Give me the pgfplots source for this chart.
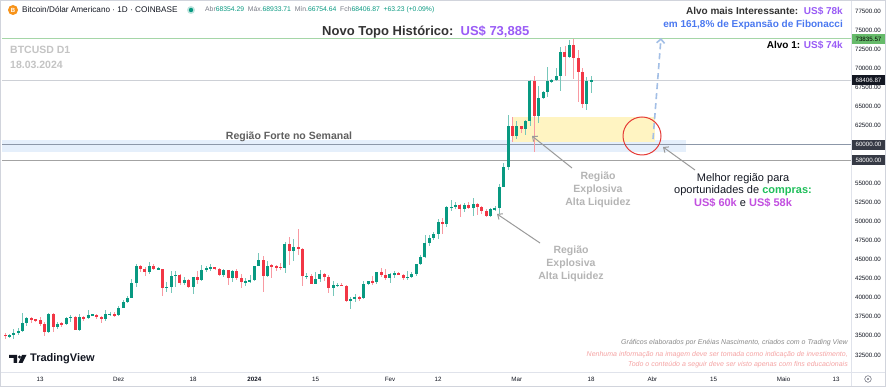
\documentclass[border=0pt]{standalone}
\usepackage{pgfplots}
\pgfplotsset{compat=1.18}
\usepackage{pgfplotstable}
\usepackage{fontspec}
\setmainfont{Liberation Sans}
\usetikzlibrary{arrows.meta}

\definecolor{tvgreen}{HTML}{089981}
\definecolor{tvred}{HTML}{F23645}
\definecolor{tvtext}{HTML}{131722}
\definecolor{tvgray}{HTML}{787B86}
\definecolor{purp}{HTML}{9A5CF6}
\definecolor{fibblue}{HTML}{4A78F0}
\definecolor{magtwo}{HTML}{C24FE0}
\definecolor{buygreen}{HTML}{1FBF5A}
\definecolor{explgray}{HTML}{B5B5B5}
\definecolor{annot}{HTML}{5F5F5F}
\definecolor{bandblue}{HTML}{E5EFFB}
\definecolor{boxyellow}{HTML}{FFF4C2}
\definecolor{athgreen}{HTML}{A5D6A7}
\definecolor{pricegray}{HTML}{CDD0D6}
\definecolor{lineA}{HTML}{8C97A8}
\definecolor{lineB}{HTML}{A3A3A3}
\definecolor{dashblue}{HTML}{A3BFE6}
\definecolor{circred}{HTML}{E53935}
\definecolor{arrowgray}{HTML}{9A9A9A}
\definecolor{sepgray}{HTML}{E0E3EB}
\definecolor{footgray}{HTML}{8A8A8A}
\definecolor{footred}{HTML}{F5A3A3}
\definecolor{btcorange}{HTML}{F7931A}
\definecolor{darktext}{HTML}{333333}
\definecolor{ligtxt}{HTML}{C4C4C4}
\definecolor{athbox}{HTML}{66BB6A}
\definecolor{lvlbox}{HTML}{363A45}
\definecolor{framegray}{HTML}{D1D4DC}

\pgfplotstableread{
d o h l c
-8 35080 35380 34540 35040
-7 35040 35280 34740 35050
-6 35050 35900 34530 35420
-5 35420 35990 35110 35630
-4 35630 37970 35540 36700
-3 36700 37520 36340 37320
-2 37320 37410 36710 37140
-1 37140 37230 36760 37070
0 37070 37430 36350 36490
1 36490 36760 34950 35550
2 35550 37960 35370 37880
3 37880 37930 35560 36160
4 36160 36870 35890 36590
5 36590 36820 36200 36580
6 36580 37520 36370 37380
7 37380 37760 36800 37460
8 37460 37650 35750 35790
9 35790 37850 35650 37420
10 37420 37660 36880 37300
11 37300 38420 37250 37720
12 37720 37890 37600 37790
13 37790 37830 37150 37450
14 37450 37580 36740 37240
15 37240 38380 36890 37830
16 37830 38150 37630 37850
17 37850 38150 37510 37710
18 37710 38960 37620 38690
19 38690 39680 38650 39460
20 39460 40200 39290 39970
21 39970 42420 39970 41980
22 41980 44450 41420 44080
23 44080 44290 43390 43770
24 43770 44050 42840 43290
25 43290 44700 43080 44170
26 44170 44360 43580 43720
27 43720 44040 43570 43790
28 43790 43800 40220 41240
29 41240 42100 40680 41450
30 41450 43430 40620 42890
31 42890 43420 41420 43020
32 43020 43090 41690 41940
33 41940 42720 41700 42260
34 42260 42430 41250 41370
35 41370 42750 40530 42660
36 42660 43490 41800 42270
37 42270 44290 42200 43660
38 43660 44200 43300 43860
39 43860 44390 43420 43990
40 43990 43990 43610 43730
41 43730 43940 42800 43010
42 43010 43800 42730 43580
43 43580 43600 41640 42520
44 42520 43680 42100 43440
45 43440 43800 42300 42580
46 42580 43130 41300 42070
47 42070 42600 41520 42140
48 42140 42900 41970 42280
49 42280 44190 42200 44180
50 44180 45900 44180 44950
51 44950 45500 40750 42850
52 42850 44780 42640 44180
53 44180 44360 42630 44160
54 44160 44220 43420 43970
55 43970 44500 43600 43930
56 43930 47250 43200 46970
57 46970 47900 44300 46120
58 46120 47700 44750 46660
59 46660 48970 45600 46340
60 46340 46500 41500 42780
61 42780 43250 42440 42840
62 42840 43080 41720 41730
63 41730 43300 41720 42500
64 42500 43570 42050 43150
65 43150 43200 42190 42740
66 42740 42900 40600 41260
67 41260 42150 40250 41620
68 41620 41850 41450 41660
69 41660 41880 41500 41550
70 41550 41650 39400 39520
71 39520 40100 38500 39850
72 39850 40500 39480 40090
73 40090 40280 39520 39940
74 39940 42200 39800 41810
75 41810 42200 41650 42120
76 42120 42800 41630 42030
77 42030 43300 41800 43300
78 43300 43880 42700 42940
79 42940 43750 42300 42580
80 42580 43280 41880 43080
81 43080 43480 42590 43190
82 43190 43380 42900 43000
83 43000 43110 42360 42580
84 42580 43540 42260 42700
85 42700 43400 42580 43090
86 43090 44380 42780 44340
87 44340 45600 44330 45290
88 45290 48200 45250 47140
89 47140 48170 46800 47770
90 47770 48550 47550 48290
91 48290 50320 47720 49960
92 49960 50380 48350 49700
93 49700 52000 49300 51800
94 51800 52820 51300 51900
95 51900 52570 51600 52130
96 52130 52200 50600 51650
97 51650 52350 51170 52120
98 52120 52500 51560 51780
99 51780 52980 50650 52260
100 52260 52370 50800 51850
101 51850 52000 50950 51320
102 51320 51550 50530 50730
103 50730 51690 50580 51570
104 51570 51950 51300 51730
105 51730 54900 50900 54480
106 54480 57550 54450 57050
107 57050 63900 56700 62500
108 62500 63680 60370 61170
109 61170 63120 60800 62400
110 62400 62450 61600 62030
111 62030 63200 61300 63140
112 63140 68450 62400 68300
113 68300 69000 59000 63800
114 63800 67650 62800 66100
115 66100 67000 65950 66900
116 66900 70200 66200 68300
117 68300 68650 68100 68500
118 68500 70000 68300 69000
119 69000 72800 67000 72100
120 72100 72900 69000 71500
121 71500 73650 71350 73100
122 73100 73835 68600 71400
123 71400 72400 65600 69500
124 69500 70000 64800 65300
125 65300 68900 64600 68390
126 68354 68934 66755 68407
}\btc

\begin{document}
\begin{tikzpicture}
\useasboundingbox (0pt,0pt) rectangle (886pt,387pt);
\fill[white] (0pt,0pt) rectangle (886pt,387pt);
\begin{axis}[
  at={(2pt,15pt)}, anchor=south west,
  width=849pt, height=370pt, scale only axis,
  xmin=-8.69, xmax=185.41, ymin=30273, ymax=78677,
  axis line style={draw=none},
  major tick length=0pt,
  scaled y ticks=false,
  xtick={0,18,35,49,63,80,91,109,126,140,154,170,182},
  xticklabels={13,Dez,18,\textbf{2024},15,Fev,12,Mar,18,Abr,15,Maio,13},
  xticklabel style={font=\fontsize{6.2}{7}\selectfont, text=tvtext, anchor=center, yshift=-7pt},
  ytick={32500,35000,37500,40000,42500,45000,47500,50000,52500,55000,62500,65000,67500,70000,72500,75000,77500},
  yticklabel pos=right,
  y tick label style={/pgf/number format/.cd, fixed, fixed zerofill, precision=2, 1000 sep={}, assume math mode=true, /tikz/.cd, font=\fontsize{6.2}{7}\selectfont, text=tvtext, anchor=center, xshift=17pt},
]
\fill[bandblue] (axis cs:-8.69,59070) rectangle (axis cs:147.7,60624);
\fill[boxyellow] (axis cs:107.9,60363) rectangle (axis cs:140.6,63633);
\draw[athgreen, line width=1pt] (axis cs:-8.69,73835.57) -- (axis cs:185.41,73835.57);
\draw[pricegray, line width=0.8pt] (axis cs:-8.69,68406.87) -- (axis cs:185.41,68406.87);
\draw[lineA, line width=1pt] (axis cs:-8.69,60000) -- (axis cs:185.41,60000);
\draw[lineB, line width=1pt] (axis cs:-8.69,58000) -- (axis cs:185.41,58000);

% wicks
\addplot[draw=none, mark=none, forget plot,
  restrict expr to domain={\thisrow{c}-\thisrow{o}}{0:1000000},
  error bars/.cd, y dir=both, y explicit, error mark=none,
  error bar style={line width=0.8pt, draw=tvgreen!55!white}]
  table[x=d, y expr={(\thisrow{h}+\thisrow{l})/2}, y error expr={(\thisrow{h}-\thisrow{l})/2}] {\btc};
\addplot[draw=none, mark=none, forget plot,
  restrict expr to domain={\thisrow{c}-\thisrow{o}}{-1000000:-0.001},
  error bars/.cd, y dir=both, y explicit, error mark=none,
  error bar style={line width=0.8pt, draw=tvred!50!white}]
  table[x=d, y expr={(\thisrow{h}+\thisrow{l})/2}, y error expr={(\thisrow{h}-\thisrow{l})/2}] {\btc};
% bodies
\addplot[draw=none, mark=none, forget plot,
  restrict expr to domain={\thisrow{c}-\thisrow{o}}{0:1000000},
  error bars/.cd, y dir=both, y explicit, error mark=none,
  error bar style={line width=3pt, draw=tvgreen}]
  table[x=d, y expr={(\thisrow{o}+\thisrow{c})/2}, y error expr={max(abs(\thisrow{c}-\thisrow{o})/2,70)}] {\btc};
\addplot[draw=none, mark=none, forget plot,
  restrict expr to domain={\thisrow{c}-\thisrow{o}}{-1000000:-0.001},
  error bars/.cd, y dir=both, y explicit, error mark=none,
  error bar style={line width=3pt, draw=tvred}]
  table[x=d, y expr={(\thisrow{o}+\thisrow{c})/2}, y error expr={max(abs(\thisrow{c}-\thisrow{o})/2,70)}] {\btc};
\end{axis}

\begin{scope}[x=1pt,y=1pt]
% separators and frame
\draw[sepgray, line width=0.8pt] (0,15) -- (886,15);
\draw[sepgray, line width=0.8pt] (851,0) -- (851,387);
\draw[framegray, line width=0.8pt] (0.4,0.4) rectangle (885.6,386.6);

% price boxes
\node[fill=athbox, text=black, minimum width=33pt, minimum height=10pt, inner sep=0pt, font=\fontsize{6.2}{7}\selectfont] at (868.5,348.0) {73835.57};
\node[fill=tvtext, text=white, minimum width=33pt, minimum height=10pt, inner sep=0pt, font=\fontsize{6.2}{7}\selectfont] at (868.5,306.5) {68406.87};
\node[fill=lvlbox, text=white, minimum width=33pt, minimum height=10pt, inner sep=0pt, font=\fontsize{6.2}{7}\selectfont] at (868.5,242.2) {60000.00};
\node[fill=lvlbox, text=white, minimum width=33pt, minimum height=10pt, inner sep=0pt, font=\fontsize{6.2}{7}\selectfont] at (868.5,226.9) {58000.00};

% gear
\draw[tvgray, line width=0.6pt] (868,8) circle (3.3);
\fill[tvgray] (868,8) circle (1.1);

% header
\fill[btcorange] (13,377) circle (5);
\node[text=white, font=\fontsize{6}{6}\bfseries\selectfont, inner sep=0pt] at (13,377) {B};
\node[anchor=west, inner sep=0pt, font=\fontsize{8.2}{9}\selectfont, text=tvtext] at (22,377) {Bitcoin/Dólar Americano · 1D · COINBASE};
\fill[tvgreen!25] (191,377) circle (4);
\fill[tvgreen] (191,377) circle (2.2);
\node[anchor=west, inner sep=0pt, font=\fontsize{6.8}{7.5}\selectfont] at (205,377) {\textcolor{tvgray}{Abr}\textcolor{tvgreen}{68354.29}\ \ \textcolor{tvgray}{Máx.}\textcolor{tvgreen}{68933.71}\ \ \textcolor{tvgray}{Mín.}\textcolor{tvgreen}{66754.64}\ \ \textcolor{tvgray}{Fch}\textcolor{tvgreen}{68406.87}\ \ \textcolor{tvgreen}{+63.23 (+0.09\%)}};

% titles
\node[anchor=west, inner sep=0pt, font=\fontsize{13}{14}\bfseries\selectfont, text=darktext] at (322,355) {Novo Topo Histórico:\ \ \textcolor{purp}{US\$ 73,885}};
\node[anchor=east, inner sep=0pt, font=\fontsize{10}{11}\bfseries\selectfont, text=darktext] at (843,376) {Alvo mais Interessante:\ \ \textcolor{purp}{US\$ 78k}};
\node[anchor=east, inner sep=0pt, font=\fontsize{10}{11}\bfseries\selectfont, text=fibblue] at (843,362) {em 161,8\% de Expansão de Fibonacci};
\node[anchor=east, inner sep=0pt, font=\fontsize{10}{11}\bfseries\selectfont, text=black] at (843,342) {Alvo 1: \textcolor{purp}{US\$ 74k}};

\node[anchor=west, inner sep=0pt, font=\fontsize{10.5}{12}\bfseries\selectfont, text=ligtxt] at (10,337) {BTCUSD D1};
\node[anchor=west, inner sep=0pt, font=\fontsize{10.5}{12}\bfseries\selectfont, text=ligtxt] at (10,322) {18.03.2024};

\node[inner sep=0pt, font=\fontsize{10.5}{12}\bfseries\selectfont, text=annot] at (289,250) {Região Forte no Semanal};

\node[align=center, inner sep=0pt, font=\fontsize{10.5}{13}\bfseries\selectfont, text=explgray] at (598,197) {Região\\Explosiva\\Alta Liquidez};
\node[align=center, inner sep=0pt, font=\fontsize{10.5}{13}\bfseries\selectfont, text=explgray] at (571,123) {Região\\Explosiva\\Alta Liquidez};

\node[align=center, inner sep=0pt, font=\fontsize{11}{12.5}\selectfont, text=tvtext] at (743,197) {Melhor região para\\oportunidades de \textcolor{buygreen}{\textbf{compras:}}\\\textcolor{magtwo}{\textbf{US\$ 60k}} e \textcolor{magtwo}{\textbf{US\$ 58k}}};

% arrows
\draw[arrowgray, line width=1pt, -{Straight Barb[length=4pt,width=7pt]}] (572,219) -- (532,251);
\draw[arrowgray, line width=1pt, -{Straight Barb[length=4pt,width=7pt]}] (540,144) -- (497,173);
\draw[arrowgray, line width=1pt, -{Straight Barb[length=4pt,width=7pt]}] (695,217) -- (663,240);
\draw[dashblue, line width=1.6pt, dash pattern=on 6pt off 4pt, -{Straight Barb[length=4pt,width=8pt]}] (653,248) -- (661,349);
\draw[circred, line width=1pt] (642,251) circle (19);

% footer
\node[anchor=east, inner sep=0pt, font=\fontsize{7}{8}\itshape\selectfont, text=footgray] at (848,44) {Gráficos elaborados por Enéias Nascimento, criados com o Trading View};
\node[anchor=east, inner sep=0pt, font=\fontsize{7}{8}\itshape\selectfont, text=footred] at (848,32) {Nenhuma informação na imagem deve ser tomada como indicação de investimento,};
\node[anchor=east, inner sep=0pt, font=\fontsize{7}{8}\itshape\selectfont, text=footred] at (848,22) {Todo o conteúdo a seguir deve ser visto apenas com fins educacionais};

% TradingView logo
\fill[tvtext] (9,32) -- (17,32) -- (17,24) -- (13.5,24) -- (13.5,29) -- (9,29) -- cycle;
\fill[tvtext] (19.5,30) circle (1.6);
\fill[tvtext] (22,32) -- (26.5,32) -- (22.5,24) -- (18.5,24) -- cycle;
\node[anchor=west, inner sep=0pt, font=\fontsize{11}{12}\bfseries\selectfont, text=tvtext] at (30,28.5) {TradingView};
\end{scope}
\end{tikzpicture}
\end{document}
